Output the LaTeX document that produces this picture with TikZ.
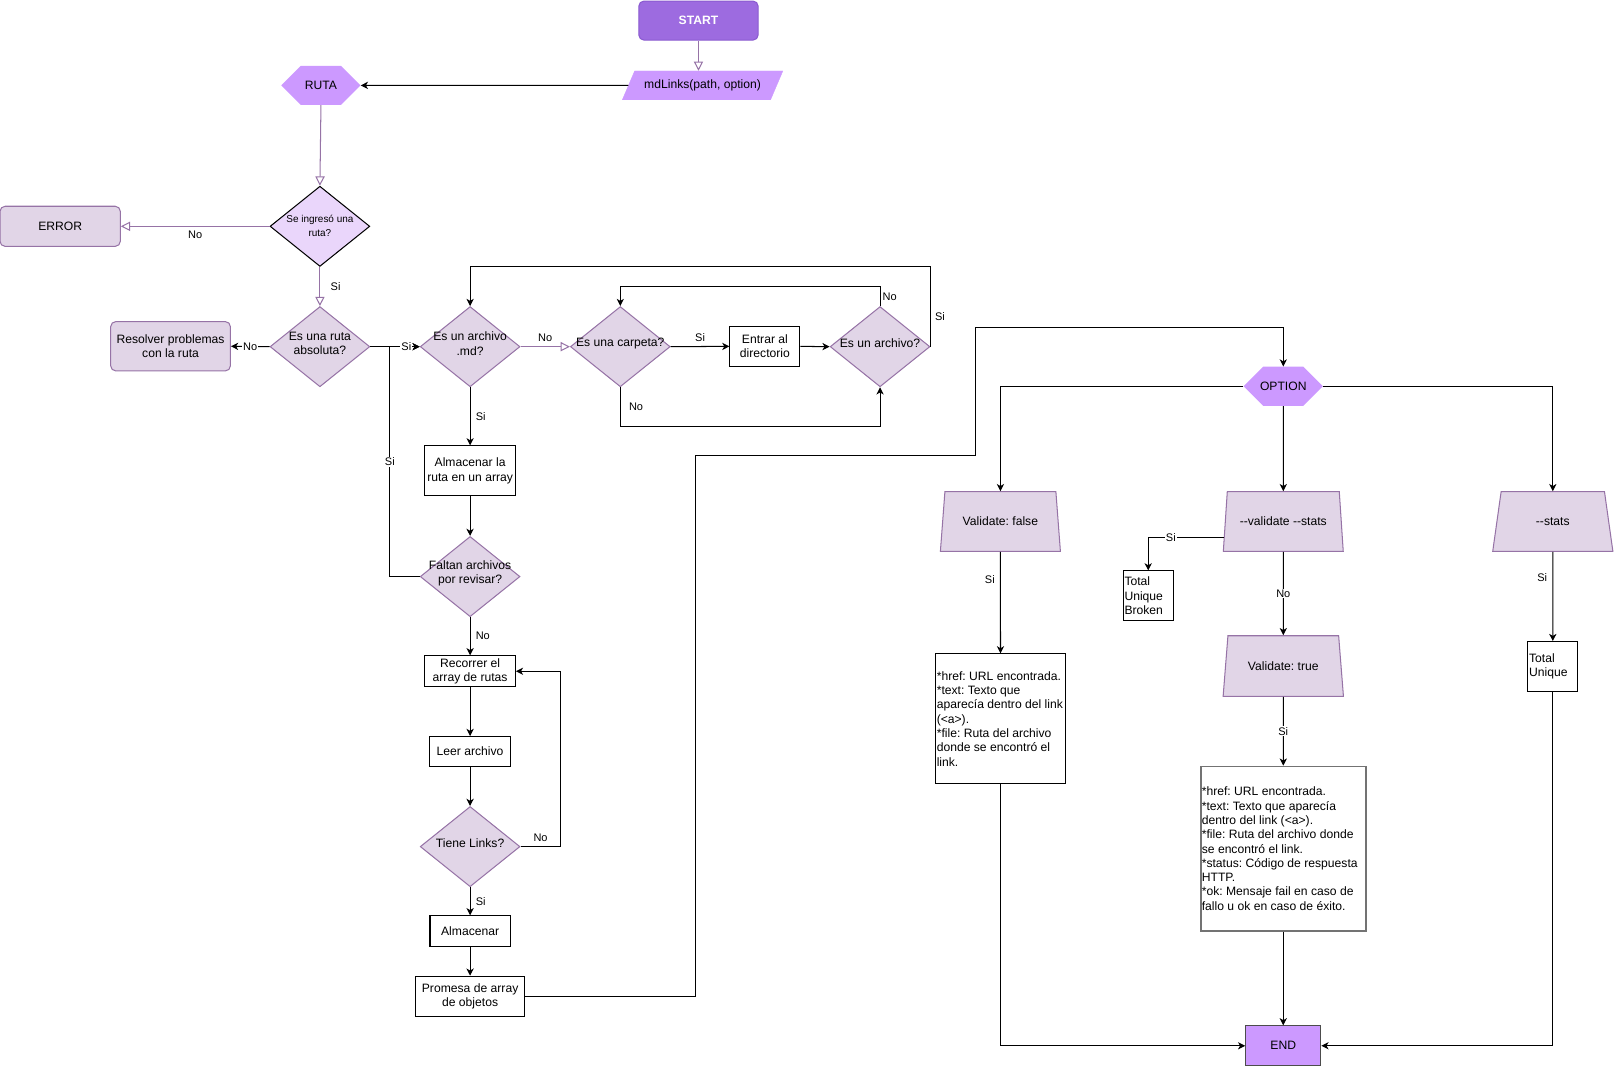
\documentclass[tikz,border=0pt]{standalone}
\usepackage{fontspec}
\setmainfont{Liberation Sans}
\usetikzlibrary{shapes.geometric, arrows.meta, calc}
\definecolor{startfill}{HTML}{9D6BE0}
\definecolor{startdraw}{HTML}{8A5AD0}
\definecolor{vfill}{HTML}{CC99FF}
\definecolor{lavfill}{HTML}{E1D5E7}
\definecolor{lavdraw}{HTML}{9673A6}
\definecolor{dfill}{HTML}{EAD6FB}
\frenchspacing
\begin{document}
\begin{tikzpicture}[x=1pt,y=-1pt,
  txt/.style={font=\fontsize{11.8}{13.9}\selectfont, align=center, inner sep=0pt},
  dtxt/.style={txt, yshift=3pt},
  lbl/.style={font=\fontsize{10.7}{12}\selectfont, inner sep=1pt},
  lblw/.style={lbl, fill=white},
  pbox/.style={txt, rectangle, draw=black, fill=white, line width=1pt},
  rbox/.style={txt, rectangle, rounded corners=5pt, draw=lavdraw, fill=lavfill, line width=1pt},
  ddiam/.style={diamond, draw=lavdraw, fill=lavfill, line width=1pt, inner sep=0pt, minimum width=97pt, minimum height=78pt},
  trap/.style={txt, trapezium, trapezium stretches=true, trapezium left angle=71, trapezium right angle=71, draw=lavdraw, fill=lavfill, line width=1pt, minimum width=117pt, minimum height=58pt},
  mdshape/.style={txt, trapezium, trapezium stretches=true, trapezium left angle=47, trapezium right angle=133, fill=vfill, draw=vfill, minimum width=156pt, minimum height=28pt},
  hexa/.style={txt, fill=white, minimum width=77pt, minimum height=38pt,
    path picture={\fill[vfill] (path picture bounding box.west) -- ([xshift=19pt]path picture bounding box.north west) -- ([xshift=-19pt]path picture bounding box.north east) -- (path picture bounding box.east) -- ([xshift=-19pt]path picture bounding box.south east) -- ([xshift=19pt]path picture bounding box.south west) -- cycle;}},
  barrow/.style={draw=black, line width=1pt, -{Stealth[length=7pt, width=7pt, inset=2pt]}},
  parrow/.style={draw=lavdraw, line width=1pt, -{Triangle[length=9pt, width=9pt, fill=white]}}
]
\useasboundingbox (0,0) rectangle (1569,1037);

% nodes
\node[rectangle, rounded corners=5pt, fill=startfill, draw=startdraw, line width=1pt, minimum width=116pt, minimum height=38pt, text=white, font=\bfseries\fontsize{11.8}{13.9}\selectfont] (start) at (679,20) {START};
\node[mdshape] (md) at (683,83) {mdLinks(path, option)};
\node[hexa] (ruta) at (312,83) {RUTA};
\node[ddiam, fill=dfill, draw=black] (d1) at (311,220) {};
\node[txt, font=\fontsize{9.7}{13.5}\selectfont] (d1t) at (d1) {Se ingresó una\\ruta?};
\node[rbox, minimum width=117pt, minimum height=39pt] (error) at (58.5,220) {ERROR};
\node[ddiam] (d2) at (311,337) {};
\node[dtxt] (d2t) at (d2) {Es una ruta\\absoluta?};
\node[rbox, minimum width=116.4pt, minimum height=48pt] (resolver) at (165.8,336.6) {Resolver problemas\\con la ruta};
\node[ddiam] (d3) at (457,337) {};
\node[dtxt] (d3t) at (d3) {Es un archivo\\.md?};
\node[ddiam] (d4) at (603,337) {};
\node[dtxt] (d4t) at (d4) {Es una carpeta?};
\node[pbox, minimum width=68pt, minimum height=39.5pt] (entrar) at (743.6,336.7) {Entrar al\\directorio};
\node[ddiam] (d5) at (855.5,337) {};
\node[dtxt] (d5t) at (d5) {Es un archivo?};
\node[pbox, minimum width=88pt, minimum height=48.5pt] (alm1) at (457,457.7) {Almacenar la\\ruta en un array};
\node[ddiam] (faltan) at (457,560.5) {};
\node[dtxt] (faltant) at (faltan) {Faltan archivos\\por revisar?};
\node[pbox, minimum width=88pt, minimum height=30pt] (recorrer) at (457,652.5) {Recorrer el\\array de rutas};
\node[pbox, minimum width=78.4pt, minimum height=29pt] (leer) at (457,730.5) {Leer archivo};
\node[ddiam] (tiene) at (457,823) {};
\node[dtxt] (tienet) at (tiene) {Tiene Links?};
\node[pbox, minimum width=78pt, minimum height=29.5pt] (alm2) at (457,905) {Almacenar};
\node[pbox, minimum width=106pt, minimum height=39pt] (promesa) at (457,968.5) {Promesa de array\\de objetos};
\node[hexa] (option) at (1247.5,375.5) {OPTION};
\node[trap] (vf) at (972.5,507) {Validate: false};
\node[trap] (vs) at (1247.5,507) {-{}-validate -{}-stats};
\node[trap] (st) at (1509.5,507) {-{}-stats};
\node[pbox, minimum width=48.5pt, minimum height=48.6pt] (tub) at (1116.2,579.3) {};
\node[txt, align=left, anchor=west] (tubt) at ([xshift=1.5pt]tub.west) {Total\\Unique\\Broken};
\node[trap, minimum height=59pt] (vt) at (1247.5,647.5) {Validate: true};
\node[pbox, minimum width=48.5pt, minimum height=48.6pt] (tu) at (1509.5,648) {};
\node[txt, align=left, anchor=west] (tut) at ([xshift=1.5pt]tu.west) {Total\\Unique};
\node[pbox, minimum width=126.3pt, minimum height=126.3pt] (box1) at (972.6,698.8) {};
\node[txt, align=left, anchor=west] (box1t) at ([xshift=1.5pt]box1.west) {*href: URL encontrada.\\*text: Texto que\\aparecía dentro del link\\(<a>).\\*file: Ruta del archivo\\donde se encontró el\\link.};
\node[pbox, draw=black!55, line width=1.4pt, minimum width=160.4pt, minimum height=160pt] (box2) at (1247.5,825) {};
\node[txt, align=left, anchor=west] (box2t) at ([xshift=1.5pt]box2.west) {*href: URL encontrada.\\*text: Texto que aparecía\\dentro del link (<a>).\\*file: Ruta del archivo donde\\se encontró el link.\\*status: Código de respuesta\\HTTP.\\*ok: Mensaje fail en caso de\\fallo u ok en caso de éxito.};
\node[txt, rectangle, fill=vfill, draw=black!70, line width=1pt, minimum width=73pt, minimum height=38.7pt] (end) at (1247.5,1016.6) {END};

% connectors
\draw[parrow] (start.south) -- (start.south |- md.north);
\draw[barrow] ($(md.bottom left corner)!0.5!(md.top left corner)$) -- (ruta.east);
\draw[parrow] (ruta.south) -- (d1.north);
\draw[parrow] (d1.west) -- node[lbl, below=3pt]{No} (error.east);
\draw[parrow] (d1.south) -- node[lbl, right=9pt]{Si} (d2.north);
\draw[barrow] (d2.west) -- node[lblw]{No} (resolver.east);
\draw[barrow] (faltan.west) -- ++(-29,0) |- node[lblw, pos=0.25]{Si} (d3.west);
\draw[barrow] (d2.east) -- node[lblw, pos=0.73]{Si} (d3.west);
\draw[parrow] (d3.east) -- node[lbl, above=3pt]{No} (d4.west);
\draw[barrow] (d4.east) -- node[lbl, above=3pt]{Si} (entrar.west);
\draw[barrow] (entrar.east) -- (d5.west);
\draw[barrow] (d5.north) -- node[lbl, right=1pt]{No} ++(0,-19) -| (d4.north);
\draw[barrow] (d4.south) -- node[lbl, right=7pt]{No} ++(0,38) -| (d5.south);
\draw[barrow] (d5.east) -- node[lbl, right=3pt, pos=0.37]{Si} ++(0,-78) -| (d3.north);
\draw[barrow] (d3.south) -- node[lbl, right=4pt]{Si} (alm1.north);
\draw[barrow] (alm1.south) -- (faltan.north);
\draw[barrow] (faltan.south) -- node[lbl, right=4pt]{No} (recorrer.north);
\draw[barrow] (recorrer.south) -- (leer.north);
\draw[barrow] (leer.south) -- (tiene.north);
\draw[barrow] (tiene.east) -- node[lbl, above=3pt]{No} ++(39,0) |- (recorrer.east);
\draw[barrow] (tiene.south) -- node[lbl, right=4pt]{Si} (alm2.north);
\draw[barrow] (alm2.south) -- (promesa.north);
\coordinate (c1) at (676.5,443);
\coordinate (c2) at (948.4,318);
\draw[barrow] (promesa.east) -| (c1) -| (c2) -| (option.north);
\draw[barrow] (option.west) -| (vf.north);
\draw[barrow] (option.south) -- (vs.north);
\draw[barrow] (option.east) -| (st.north);
\draw[barrow] (vf.south) -- node[lbl, left=4pt, pos=0.27]{Si} (box1.north);
\draw[barrow] ($(vs.bottom left corner)!0.243!(vs.top left corner)$) -| node[lblw, pos=0.35]{Si} (tub.north);
\draw[barrow] (vs.south) -- node[lblw]{No} (vt.north);
\draw[barrow] (vt.south) -- node[lblw]{Si} (box2.north);
\draw[barrow] (box2.south) -- (end.north);
\draw[barrow] (box1.south) |- (end.west);
\draw[barrow] (tu.south) |- (end.east);
\draw[barrow] (st.south) -- node[lbl, left=4pt, pos=0.29]{Si} (tu.north);
\end{tikzpicture}
\end{document}
